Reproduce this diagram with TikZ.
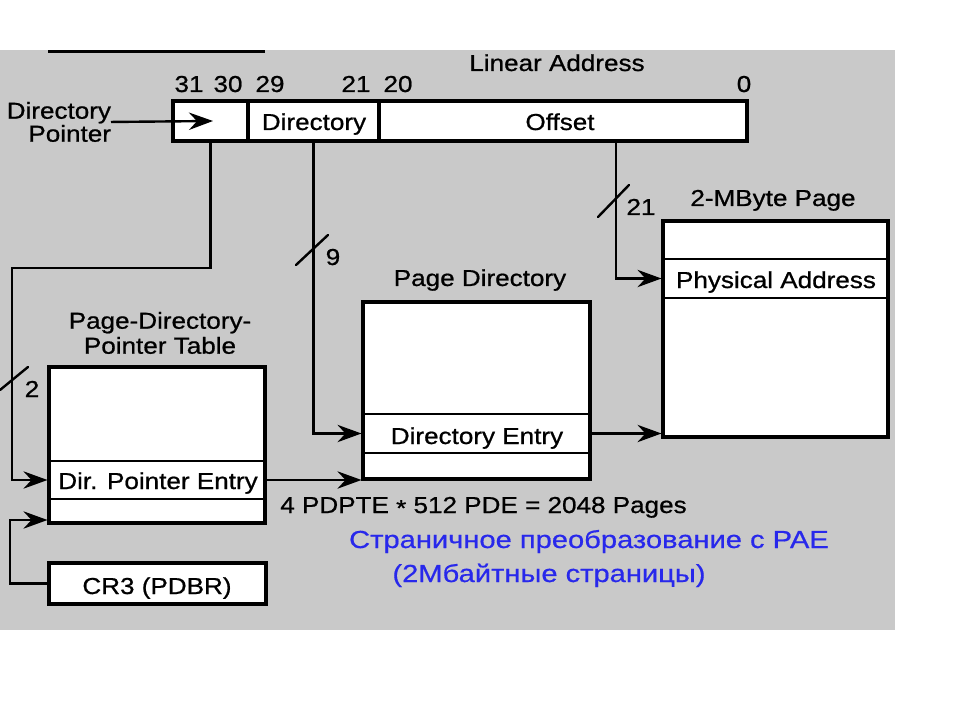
\documentclass[tikz,border=0pt]{standalone}
\usepackage{fontspec}
\setmainfont{Liberation Sans}[FakeStretch=1.13,FakeBold=0.8]
\newfontfamily\notefont{Liberation Sans}[FakeStretch=1.18,FakeBold=0.6]
\usetikzlibrary{arrows.meta}
\definecolor{paper}{RGB}{201,201,201}
\definecolor{notecol}{RGB}{40,40,235}
\begin{document}
\begin{tikzpicture}[x=0.75pt,y=-0.75pt,
  txt/.style={font=\fontsize{17.3pt}{17.3pt}\selectfont, inner sep=0pt, outer sep=0pt},
  lbl/.style={txt, anchor=base},
  note/.style={lbl, text=notecol, font=\notefont\fontsize{18.5pt}{18.5pt}\selectfont},
  frame/.style={draw, fill=white, line width=2.3pt, inner sep=0pt},
  row/.style={inner sep=0pt, outer sep=0pt},
  divider/.style={line width=1.3pt},
  conn/.style={line width=1.8pt, -{Stealth[length=18pt,width=13pt,inset=6pt]}},
  slash/.style={line width=1.8pt, line cap=round},
]
\useasboundingbox (0,0) rectangle (960,720);
\fill[white] (0,0) rectangle (960,720);
\fill[paper] (0,50) rectangle (895,630);
\fill[black] (48,50) rectangle (265,53);

% linear address fields
\node[frame, minimum width=56.25pt, minimum height=30pt] (la1) at (210.5,121) {};
\node[frame, minimum width=98.25pt, minimum height=30pt] (la2) at (313.5,121) {};
\node[frame, minimum width=276pt, minimum height=30pt] (la3) at (563,121) {};
\node[lbl] (t-dir) at (314,130) {Directory};
\node[lbl] (t-off) at (560,130) {Offset};
\node[lbl] (t-la) at (557,71) {Linear Address};
\node[lbl] (b31) at (189,92) {31};
\node[lbl] (b30) at (228,92) {30};
\node[lbl] (b29) at (270,92) {29};
\node[lbl] (b21) at (356,92) {21};
\node[lbl] (b20) at (398,92) {20};
\node[lbl] (b0) at (744,92) {0};
\node[txt, anchor=north east, align=right, font=\fontsize{17.3pt}{17.25pt}\selectfont] (dpl) at (111,102) {Directory\\Pointer};

% page-directory-pointer table
\node[frame, minimum width=162pt, minimum height=117pt] (pdpt) at (157,445) {};
\node[row, minimum width=162pt, minimum height=28.5pt] (dpe) at (157,480) {};
\draw[divider] (dpe.north west) -- (dpe.north east) (dpe.south west) -- (dpe.south east);
\node[lbl] (t-dpe) at (158,489) {Dir. Pointer Entry};
\node[txt, anchor=north, align=center, font=\fontsize{17.3pt}{18.75pt}\selectfont] (t-pdpt) at (160,312) {Page-Directory-\\Pointer Table};

% page directory
\node[frame, minimum width=170.25pt, minimum height=132.75pt] (pd) at (476.5,390.5) {};
\node[row, minimum width=170.25pt, minimum height=29.25pt] (de) at (476.5,433.5) {};
\draw[divider] (de.north west) -- (de.north east) (de.south west) -- (de.south east);
\node[lbl] (t-de) at (477,444) {Directory Entry};
\node[lbl] (t-pd) at (480,286) {Page Directory};

% 2-MByte page
\node[frame, minimum width=168.75pt, minimum height=162pt] (page) at (775.5,329) {};
\node[row, minimum width=168.75pt, minimum height=29.25pt] (pa) at (775.5,278.5) {};
\draw[divider] (pa.north west) -- (pa.north east) (pa.south west) -- (pa.south east);
\node[lbl] (t-pa) at (776,288) {Physical Address};
\node[lbl] (t-page) at (773,206) {2-MByte Page};

% CR3
\node[frame, minimum width=162.75pt, minimum height=30.75pt] (cr3) at (157.5,583.5) {};
\node[lbl] (t-cr3) at (157,594) {CR3 (PDBR)};

% connectors
\coordinate (dptip) at (213,121);
\draw[conn] (dpl.east) -- (dptip);
\coordinate (k1) at (12,268);
\draw[conn] (la1.south) |- (k1) |- (dpe.west -| pdpt.west);
\draw[conn] (la2.south) |- (de.west -| pd.west);
\path (la3.south) ++(53,0) coordinate (otap);
\draw[conn] (otap) |- (pa.west -| page.west);
\draw[conn] (dpe.east) -- (dpe.east -| pd.west);
\draw[conn] (de.east) -- (de.east -| page.west);
\coordinate (k2) at (10,520);
\draw[conn] (cr3.west) -| (k2) -- (k2 -| pdpt.west);

% bus-width marks
\draw[slash] (0,390) -- (28,367);
\node[lbl] (w2) at (32,397) {2};
\draw[slash] (296,265) -- (328,235);
\node[lbl] (w9) at (333,265) {9};
\draw[slash] (598,217) -- (629,185);
\node[lbl] (w21) at (641,215) {21};

% notes
\node[lbl] (t-sum) at (483.5,513) {4 PDPTE \raisebox{-0.25ex}{*} 512 PDE = 2048 Pages};
\node[note] (t-note1) at (589,548) {Страничное преобразование с PAE};
\node[note] (t-note2) at (549,582) {(2Мбайтные страницы)};
\end{tikzpicture}
\end{document}
